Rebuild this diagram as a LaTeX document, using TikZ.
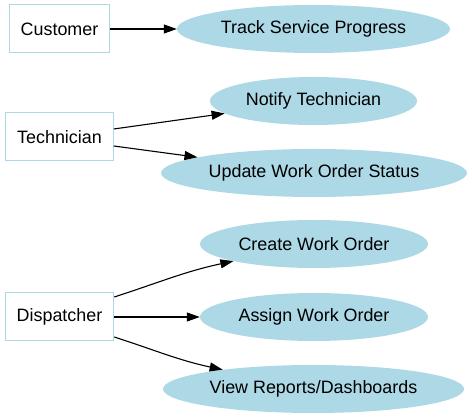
\documentclass[tikz,border=0pt]{standalone}
\usepackage{fontspec}
\setmainfont{Liberation Sans}
\usepackage{tikz}
\usetikzlibrary{arrows.meta,shapes.geometric}
\definecolor{lightblue}{HTML}{ADD8E6}

\begin{document}
\begin{tikzpicture}[x=1pt,y=1pt,>={Triangle[length=13pt,width=9pt]},
		actor/.style={draw=lightblue,line width=1pt,minimum height=48pt,inner xsep=11.5pt,font=\fontsize{17.9}{21}\selectfont},
		usecase/.style={ellipse,fill=lightblue,minimum height=48pt,inner sep=0pt,font=\fontsize{17.9}{21}\selectfont},
		link/.style={->,line width=1.1pt}]
			\useasboundingbox (0,0) rectangle (472,419);
			
			% actors
			\node[actor] (customer) at (59.5,390) {Customer};
			\node[actor] (technician) at (59.5,282) {Technician};
			\node[actor] (dispatcher) at (59.5,102) {Dispatcher};
			
			% use cases
			\node[usecase,minimum width=273pt] (track) at (313.5,390) {Track Service Progress};
			\node[usecase,minimum width=207pt] (notify) at (313.5,318) {Notify Technician};
			\node[usecase,minimum width=306pt] (update) at (314,246) {Update Work Order Status};
			\node[usecase,minimum width=228pt] (create) at (314,175) {Create Work Order};
			\node[usecase,minimum width=228pt] (assign) at (314,102) {Assign Work Order};
			\node[usecase,minimum width=301pt] (reports) at (313.5,30) {View Reports/Dashboards};
			
			\draw[link] (customer) -- (track);
			\draw[link] ([yshift=8pt]technician.east) -- (notify);
			\draw[link] ([yshift=-9pt]technician.east) -- (update);
			\draw[link] ([yshift=20pt]dispatcher.east) to[out=18,in=192] (create);
			\draw[link] (dispatcher) -- (assign);
			\draw[link] ([yshift=-20pt]dispatcher.east) to[out=-18,in=168] (reports);
		\end{tikzpicture}
\end{document}
